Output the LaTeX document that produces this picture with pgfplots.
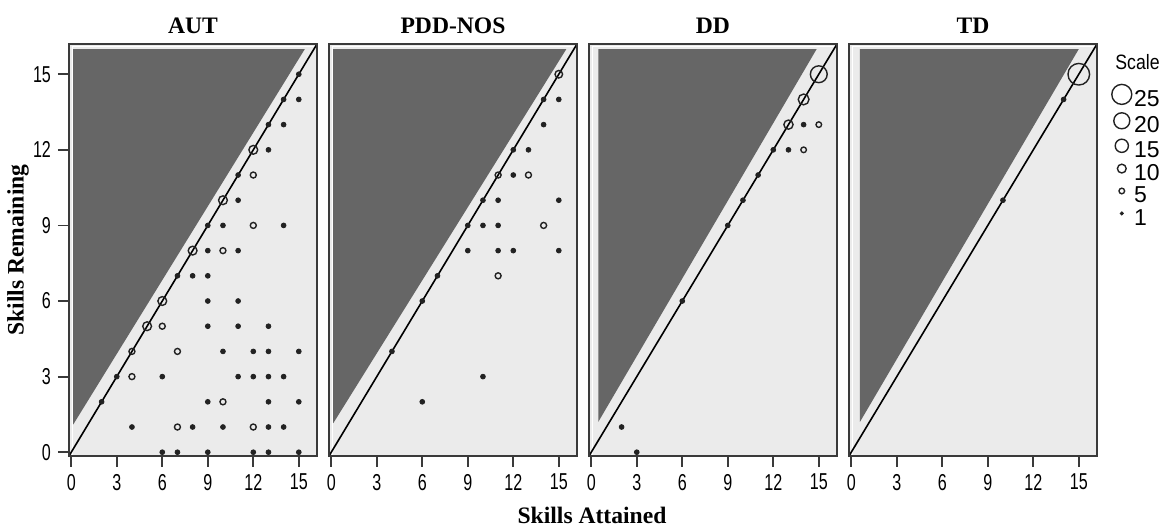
\documentclass[border=0pt]{standalone}
\usepackage{fontspec}
\setmainfont{Liberation Serif}
\newfontfamily\narrowsans[FakeStretch=0.7]{Liberation Sans}
\newfontfamily\legsans{Liberation Sans}
\newfontfamily\scalesans[FakeStretch=0.85]{Liberation Sans}
\usepackage{pgfplots}
\pgfplotsset{compat=1.18}
\definecolor{lightbg}{HTML}{EBEBEB}
\definecolor{darkfill}{HTML}{666666}
\definecolor{framec}{HTML}{3A3A3A}
\definecolor{ptc}{HTML}{222222}
\pgfplotsset{
  panel/.style={
    scale only axis, width=124pt, height=206pt,
    xmin=-0.15, xmax=16.2, ymin=-0.15, ymax=16.2,
    axis background/.style={fill=lightbg},
    axis line style={draw=framec, line width=1.1pt},
    axis on top,
    xtick={0,3,...,15},
    tick align=outside, xtick pos=bottom, ytick pos=left,
    major tick length=5.5pt,
    tick style={draw=framec, line width=0.9pt},
    tick label style={font=\narrowsans\fontsize{11.5}{12}\selectfont},
    /pgf/number format/assume math mode=true,
    title style={at={(0.5,1)}, anchor=base, yshift=-1pt, font=\bfseries\fontsize{11.8}{13}\selectfont},
  },
  dot/.style={only marks, mark=*, mark size=1.2pt, color=ptc, forget plot},
  ring/.style={only marks, mark=o, mark size=#1, color=ptc, mark options={line width=0.7pt}, forget plot},
  legring/.style={only marks, mark=o, mark size=#1, color=ptc, mark options={line width=0.7pt},
    legend image code/.code={\draw[##1] plot coordinates {(0pt,3.6pt)};}},
  legdot/.style={only marks, mark=*, mark size=0.8pt, color=ptc,
    legend image code/.code={\draw[##1] plot coordinates {(0pt,3.6pt)};}},
  bgtri/.style={fill=darkfill, draw=none, forget plot},
  inline/.style={white, line width=0.5pt, forget plot},
  diag/.style={black, line width=0.8pt, forget plot},
}
\begin{document}
\begin{tikzpicture}
\useasboundingbox (0,0) rectangle (584.5pt,264.5pt);
% ---------------- AUT
\begin{axis}[panel, at={(34.5pt,36.5pt)}, anchor=south west, title={AUT}, ytick={0,3,...,15}]
\addplot[inline] coordinates {(0.07,-0.2) (0.07,16.1) (16.3,16.1)};
\addplot[bgtri] coordinates {(0.13,16.0) (15.4,16.0) (0.13,1.1)};
\addplot[diag] coordinates {(-0.15,-0.15) (16.2,16.2)};
\addplot[dot] coordinates {
(15,15) (14,14) (15,14) (13,13) (14,13) (13,12) (11,11) (11,10) (9,9) (10,9) (14,9)
(9,8) (11,8) (7,7) (8,7) (9,7) (9,6) (11,6) (9,5) (11,5) (13,5) (10,4) (12,4) (13,4) (15,4)
(3,3) (6,3) (11,3) (12,3) (13,3) (14,3) (2,2) (9,2) (13,2) (15,2) (4,1) (8,1) (10,1) (13,1) (14,1)
(6,0) (7,0) (9,0) (12,0) (13,0) (15,0)};
\addplot[ring=1.5pt] coordinates {(12,11) (12,9) (10,8) (6,5) (7,4) (4,3) (10,2) (7,1) (12,1) (4,4)};
\addplot[ring=2.2pt] coordinates {(12,12) (10,10) (8,8) (6,6) (5,5)};
\end{axis}
% ---------------- PDD-NOS
\begin{axis}[panel, at={(164.5pt,36.5pt)}, anchor=south west, title={PDD-NOS}, ytick=\empty]
\addplot[inline] coordinates {(0.07,-0.2) (0.07,16.1) (16.3,16.1)};
\addplot[bgtri] coordinates {(0.13,16.0) (15.5,16.0) (0.13,1.15)};
\addplot[diag] coordinates {(-0.15,-0.15) (16.2,16.2)};
\addplot[dot] coordinates {
(14,14) (15,14) (14,13) (12,12) (13,12) (12,11) (10,10) (11,10) (15,10) (9,9) (10,9) (11,9)
(9,8) (11,8) (12,8) (15,8) (7,7) (6,6) (4,4) (10,3) (6,2)};
\addplot[ring=1.5pt] coordinates {(11,11) (13,11) (14,9) (11,7)};
\addplot[ring=1.9pt] coordinates {(15,15)};
\end{axis}
% ---------------- DD
\begin{axis}[panel, at={(294.5pt,36.5pt)}, anchor=south west, title={DD}, ytick=\empty]
\addplot[inline] coordinates {(0.07,-0.2) (0.07,16.1) (16.3,16.1)};
\addplot[bgtri] coordinates {(0.46,16.0) (14.86,16.0) (0.46,1.2)};
\addplot[diag] coordinates {(-0.15,-0.15) (16.2,16.2)};
\addplot[dot] coordinates {(14,13) (12,12) (13,12) (11,11) (10,10) (9,9) (6,6) (2,1) (3,0)};
\addplot[ring=1.4pt] coordinates {(15,13) (14,12)};
\addplot[ring=2.3pt] coordinates {(13,13)};
\addplot[ring=2.7pt] coordinates {(14,14)};
\addplot[ring=4.2pt] coordinates {(15,15)};
\end{axis}
% ---------------- TD
\begin{axis}[panel, name=td, at={(424.5pt,36.5pt)}, anchor=south west, title={TD}, ytick=\empty,
  legend style={at={(1,1)}, anchor=north west, xshift=7.2pt, yshift=-20pt,
    draw=none, fill=none, inner sep=0pt, row sep=0pt, column sep=0pt,
    nodes={inner xsep=1.2pt, inner ysep=0.4pt, text height=7.6pt, text depth=2.8pt, font=\legsans\fontsize{11.5}{12}\selectfont}},
  legend cell align=left]
\addplot[inline] coordinates {(0.07,-0.2) (0.07,16.1) (16.3,16.1)};
\addplot[bgtri] coordinates {(0.57,16.0) (15.0,16.0) (0.57,1.2)};
\addplot[diag] coordinates {(-0.15,-0.15) (16.2,16.2)};
\addplot[dot] coordinates {(14,14) (10,10)};
\addplot[ring=5.4pt] coordinates {(15,15)};
\addlegendimage{legring=5pt}\addlegendentry{25}
\addlegendimage{legring=4pt}\addlegendentry{20}
\addlegendimage{legring=3.3pt}\addlegendentry{15}
\addlegendimage{legring=2.2pt}\addlegendentry{10}
\addlegendimage{legring=1.4pt}\addlegendentry{5}
\addlegendimage{legdot}\addlegendentry{1}
\end{axis}
\node[anchor=base west, inner sep=0pt, xshift=9pt, yshift=-13pt, font=\scalesans\fontsize{10.4}{12}\selectfont] at (td.north east) {Scale};
\node[rotate=90, anchor=center, font=\bfseries\fontsize{11.8}{13}\selectfont] at (9pt,139.5pt) {Skills Remaining};
\node[anchor=base, font=\bfseries\fontsize{11.8}{13}\selectfont] at (296pt,2.5pt) {Skills Attained};
\end{tikzpicture}
\end{document}
